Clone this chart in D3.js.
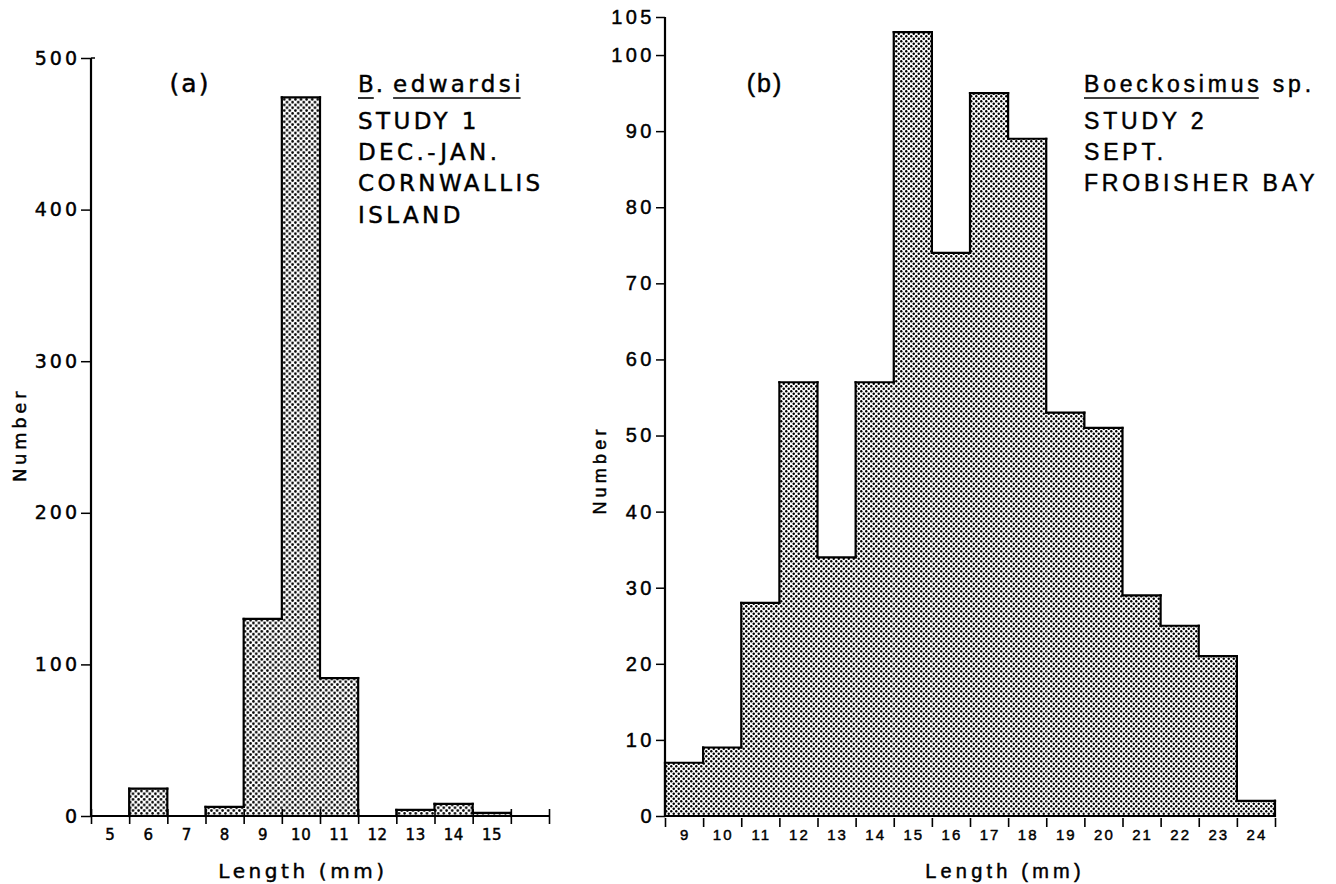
<!DOCTYPE html>
<html><head><meta charset="utf-8">
<script src="https://cdn.jsdelivr.net/npm/d3@7"></script>
<style>body{margin:0;background:#fff} text{stroke:#000;stroke-width:0.45px}</style>
</head><body><svg id="c" width="1336" height="884"></svg>
<script>
// ---- data ----
const binsA = [5, 6, 7, 8, 9, 10, 11, 12, 13, 14, 15];
const countsA = [0, 18, 0, 6, 130, 474, 91, 0, 4, 8, 2];
const yTicksA = [0, 100, 200, 300, 400, 500];
const binsB = [9, 10, 11, 12, 13, 14, 15, 16, 17, 18, 19, 20, 21, 22, 23, 24];
const countsB = [7, 9, 28, 57, 34, 57, 103, 74, 95, 89, 53, 51, 29, 25, 21, 2];
const yTicksB = [0, 10, 20, 30, 40, 50, 60, 70, 80, 90, 100, 105];
const panelA = "(a)", panelB = "(b)";
const speciesA = [["B", true], [".", false], ["edwardsi", true]];
const speciesB = [["Boeckosimus", true], ["sp.", false]];
const notesA = ["STUDY 1", "DEC.-JAN.", "CORNWALLIS", "ISLAND"];
const notesB = ["STUDY 2", "SEPT.", "FROBISHER BAY"];
const xTitle = "Length (mm)", yTitle = "Number";

const svg = d3.select("#c");
const defs = svg.append("defs");
function dotPattern(id, s, r) {
  const p = defs.append("pattern").attr("id", id).attr("width", s).attr("height", s)
    .attr("patternUnits", "userSpaceOnUse");
  p.append("rect").attr("width", s).attr("height", s).attr("fill", "#fff");
  p.append("circle").attr("cx", s / 4).attr("cy", s / 4).attr("r", r).attr("fill", "#000");
  p.append("circle").attr("cx", 3 * s / 4).attr("cy", 3 * s / 4).attr("r", r).attr("fill", "#000");
}
dotPattern("dotsA", 5.6, 1.3);
dotPattern("dotsB", 5.0, 1.2);

const fontA = "'DejaVu Sans', sans-serif";
const fontB = "'Liberation Sans', Arial, sans-serif";

// ---- scales ----
const xA = d3.scaleLinear().domain([4.5, 16.5]).range([91, 549]);
const yA = d3.scaleLinear().domain([0, 500]).range([816, 58]);
const xB = d3.scaleLinear().domain([8.5, 24.5]).range([665, 1275]);
const yB = d3.scaleLinear().domain([0, 105]).range([816, 17]);

function drawPanel(o) {
  const g = svg.append("g");
  const data = o.bins.map((b, i) => ({ b, v: o.counts[i] }));
  g.selectAll("rect.bar").data(data.filter(d => d.v > 0)).enter().append("rect")
    .attr("x", d => o.x(d.b - 0.5))
    .attr("width", d => o.x(d.b + 0.5) - o.x(d.b - 0.5))
    .attr("y", d => o.y(d.v))
    .attr("height", d => o.y(0) - o.y(d.v))
    .attr("fill", `url(#${o.pat})`);
  const tops = data.filter(d => d.v > 0);
  g.selectAll("line.top").data(tops).enter().append("line")
    .attr("x1", d => o.x(d.b - 0.5)).attr("x2", d => o.x(d.b + 0.5))
    .attr("y1", d => o.y(d.v)).attr("y2", d => o.y(d.v))
    .attr("stroke", "#000").attr("stroke-width", 2.2).attr("stroke-linecap", "square");
  const verts = [];
  for (let i = 0; i <= data.length; i++) {
    const a = i > 0 ? data[i - 1].v : 0, b = i < data.length ? data[i].v : 0;
    if (a !== b) verts.push({ e: (i < data.length ? data[i].b : data[i - 1].b + 1) - 0.5, a, b });
  }
  g.selectAll("line.vert").data(verts).enter().append("line")
    .attr("x1", d => o.x(d.e)).attr("x2", d => o.x(d.e))
    .attr("y1", d => o.y(d.a)).attr("y2", d => o.y(d.b))
    .attr("stroke", "#000").attr("stroke-width", 2.2).attr("stroke-linecap", "square");

  const ya = g.append("g").attr("transform", `translate(${o.x.range()[0]},0)`)
    .call(d3.axisLeft(o.y).tickValues(o.yTicks).tickSize(o.ytick).tickPadding(o.ypad).tickSizeOuter(0));
  ya.select(".domain").attr("stroke-width", 2.2).attr("d", `M0,${o.y(0)}V${o.y.range()[1]}`);
  ya.selectAll(".tick line").attr("stroke-width", 1.5);
  ya.selectAll(".tick text").attr("font-family", o.font).attr("font-size", o.yfs)
    .attr("letter-spacing", o.yls).attr("fill", "#000");

  const edges = d3.range(o.x.domain()[0], o.x.domain()[1] + 0.01, 1);
  const xa = g.append("g").attr("transform", `translate(0,${o.y(0)})`)
    .call(d3.axisBottom(o.x).tickValues(edges).tickSize(o.xtick).tickFormat("").tickSizeOuter(0));
  xa.select(".domain").attr("stroke-width", 2).attr("d", `M${o.x.range()[0]},0H${o.x.range()[1]}`);
  xa.selectAll(".tick line").attr("stroke-width", 1.6).attr("y1", o.xtickUp);
  g.append("g").selectAll("text").data(o.bins).enter().append("text")
    .attr("x", d => o.x(d) + o.xls / 2).attr("y", 840)
    .attr("text-anchor", "middle").attr("font-family", o.font).attr("font-size", o.xfs)
    .attr("letter-spacing", o.xls).text(d => d);

  g.append("text").attr("x", o.xtx).attr("y", 878).attr("text-anchor", "middle")
    .attr("font-family", o.font).attr("font-size", 20).attr("letter-spacing", o.tls).text(xTitle);
  g.append("text").attr("transform", `translate(${o.ytx},${o.yty}) rotate(-90)`)
    .attr("text-anchor", "middle").attr("dominant-baseline", "central")
    .attr("font-family", o.font).attr("font-size", 18).attr("letter-spacing", o.yls2).text(yTitle);

  g.append("text").attr("x", o.px).attr("y", 92).attr("text-anchor", "middle")
    .attr("font-family", o.font).attr("font-size", 25).attr("letter-spacing", 2).text(o.panel);
  return g;
}

const gA = drawPanel({
  bins: binsA, counts: countsA, x: xA, y: yA, yTicks: yTicksA, pat: "dotsA", font: fontA,
  ytick: 10, ypad: 1, yfs: 19, yls: 3, xtick: 8, xtickUp: -7, xfs: 15, xls: 0.5,
  xtx: 303, tls: 3.6, ytx: 19, yty: 435, yls2: 3.6, px: 190, panel: panelA
});
gA.append("line").attr("x1", 91).attr("x2", 95).attr("y1", yA(500)).attr("y2", yA(500)).attr("stroke", "#000").attr("stroke-width", 1.5);

drawPanel({
  bins: binsB, counts: countsB, x: xB, y: yB, yTicks: yTicksB, pat: "dotsB", font: fontB,
  ytick: 9, ypad: 1, yfs: 20, yls: 3.5, xtick: 11, xtickUp: 2, xfs: 15, xls: 2,
  xtx: 1005, tls: 4.2, ytx: 600, yty: 470, yls2: 4.2, px: 765, panel: panelB
});

// species name (pieces placed one after another, underlined where italic-equivalent) + notes
function notes(x, font, fs, ls, species, gaps, lines) {
  let cx = x;
  species.forEach((s, i) => {
    const t = svg.append("text").attr("x", cx).attr("y", 92).attr("font-family", font)
      .attr("font-size", fs).attr("letter-spacing", ls).text(s[0]);
    const w = t.node().getComputedTextLength() - ls;
    if (s[1]) svg.append("line").attr("x1", cx).attr("x2", cx + w)
      .attr("y1", 98).attr("y2", 98).attr("stroke", "#000").attr("stroke-width", 1.6);
    cx += w + gaps[i];
  });
  svg.append("g").selectAll("text").data(lines).enter().append("text")
    .attr("x", x).attr("y", (d, i) => 129 + i * 31.2)
    .attr("font-family", font).attr("font-size", fs).attr("letter-spacing", ls).text(d => d);
}
notes(358, fontA, 23, 3.4, speciesA, [2, 10, 0], notesA);
notes(1084, fontB, 23, 3.8, speciesB, [14, 0], notesB);
</script></body></html>
